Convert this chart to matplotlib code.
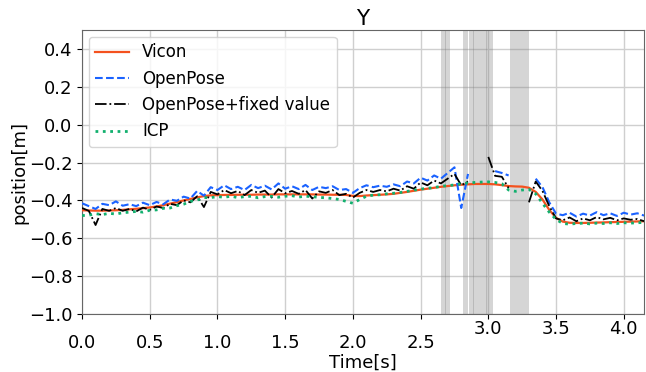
import numpy as np
import matplotlib
matplotlib.use("Agg")
import matplotlib.pyplot as plt

nan = np.nan
# sampling grid (s)
time = np.round(np.arange(84) * 0.05, 2)

vicon = [-0.452, -0.453, -0.454, -0.454, -0.453, -0.452, -0.450, -0.447, -0.444, -0.441,
         -0.437, -0.432, -0.425, -0.417, -0.409, -0.400, -0.392, -0.384, -0.377, -0.373,
         -0.372, -0.371, -0.371, -0.370, -0.370, -0.370, -0.369, -0.369, -0.369, -0.368,
         -0.368, -0.368, -0.368, -0.368, -0.368, -0.369, -0.369, -0.370, -0.370, -0.371,
         -0.376, -0.377, -0.374, -0.372, -0.370, -0.368, -0.365, -0.360, -0.355, -0.349,
         -0.343, -0.338, -0.333, -0.328, -0.324, -0.320, -0.317, -0.315, -0.313, -0.313,
         -0.313, -0.315, -0.319, -0.324, -0.326, -0.327, -0.333, -0.355, -0.395, -0.450,
         -0.492, -0.512, -0.518, -0.519, -0.519, -0.518, -0.517, -0.516, -0.515, -0.514,
         -0.513, -0.512, -0.511, -0.510]

openpose = [-0.415, -0.430, -0.445, -0.418, -0.425, -0.405, -0.428, -0.420, -0.430, -0.412,
            -0.425, -0.408, -0.420, -0.395, -0.402, -0.380, -0.390, -0.350, -0.375, -0.330,
            -0.345, -0.320, -0.340, -0.328, -0.345, -0.318, -0.335, -0.322, -0.342, -0.310,
            -0.338, -0.325, -0.340, -0.318, -0.345, -0.328, -0.335, -0.325, -0.345, -0.340,
            -0.360, -0.335, -0.320, -0.330, -0.322, -0.328, -0.315, -0.325, -0.300, -0.310,
            -0.280, -0.295, -0.268, -0.285, -0.255, -0.225, -0.440, -0.260, nan, nan,
            nan, -0.245, -0.255, -0.268, nan, nan, nan, -0.285, -0.330, -0.410,
            -0.470, -0.478, -0.465, -0.485, -0.470, -0.480, -0.462, -0.478, -0.468, -0.482,
            -0.465, -0.475, -0.468, -0.480]

openpose_fixed = [-0.440, -0.455, -0.530, -0.445, -0.455, -0.440, -0.455, -0.445, -0.458, -0.438,
                  -0.450, -0.432, -0.440, -0.418, -0.425, -0.400, -0.410, -0.378, -0.435, -0.355,
                  -0.368, -0.345, -0.362, -0.350, -0.372, -0.345, -0.360, -0.348, -0.385, -0.340,
                  -0.362, -0.350, -0.365, -0.345, -0.390, -0.352, -0.360, -0.345, -0.372, -0.365,
                  -0.385, -0.360, -0.345, -0.355, -0.345, -0.352, -0.338, -0.348, -0.325, -0.338,
                  -0.305, -0.320, -0.295, -0.310, -0.285, -0.260, -0.320, -0.300, nan, nan,
                  -0.170, -0.270, -0.275, -0.335, nan, nan, -0.410, -0.300, -0.350, -0.430,
                  -0.495, -0.505, -0.490, -0.510, -0.495, -0.505, -0.488, -0.500, -0.492, -0.505,
                  -0.495, -0.502, -0.498, -0.510]

icp = [-0.480, -0.478, -0.470, -0.475, -0.468, -0.472, -0.465, -0.462, -0.458, -0.462,
       -0.452, -0.450, -0.442, -0.440, -0.428, -0.420, -0.405, -0.398, -0.385, -0.385,
       -0.380, -0.383, -0.378, -0.385, -0.380, -0.378, -0.386, -0.380, -0.378, -0.383,
       -0.378, -0.375, -0.382, -0.378, -0.380, -0.384, -0.386, -0.390, -0.395, -0.405,
       -0.415, -0.395, -0.378, -0.372, -0.370, -0.365, -0.362, -0.358, -0.352, -0.346,
       -0.340, -0.336, -0.332, -0.325, -0.322, -0.318, -0.312, -0.308, -0.305, -0.303,
       -0.302, -0.305, -0.312, -0.345, -0.352, -0.345, -0.342, -0.365, -0.415, -0.462,
       -0.500, -0.522, -0.525, -0.522, -0.520, -0.524, -0.520, -0.522, -0.518, -0.522,
       -0.518, -0.520, -0.518, -0.516]

# shaded intervals (s): frames where OpenPose failed
span_start = [2.650, 2.680, 2.815, 2.860, 2.890, 2.930, 2.984, 3.163]
span_end = [2.684, 2.720, 2.853, 2.894, 2.934, 2.988, 3.034, 3.303]

xticks = [0.0, 0.5, 1.0, 1.5, 2.0, 2.5, 3.0, 3.5, 4.0]
yticks = [-1.0, -0.8, -0.6, -0.4, -0.2, 0.0, 0.2, 0.4]

plt.rcParams['font.family'] = ['DejaVu Sans']
plt.rcParams['font.size'] = 13

fig = plt.figure(figsize=(6.46, 3.72), dpi=100)
ax = fig.add_axes([0.127, 0.156, 0.870, 0.763])

for s, e in zip(span_start, span_end):
    ax.axvspan(s, e, color='gray', alpha=0.33, lw=0, zorder=1)

ax.plot(time, vicon, color='#f4511e', lw=1.6, ls='-', label='Vicon', zorder=3)
ax.plot(time, openpose, color='#1a62ff', lw=1.5, ls='--', label='OpenPose', zorder=4)
ax.plot(time, openpose_fixed, color='black', lw=1.3, ls='-.', label='OpenPose+fixed value', zorder=5)
ax.plot(time, icp, color='#12b06e', lw=2.0, ls=':', label='ICP', zorder=6)

ax.set_xlim(0, 4.15)
ax.set_ylim(-1.0, 0.5)
ax.set_xticks(xticks)
ax.set_yticks(yticks)
ax.grid(True, color='#cfcfcf', lw=1.0, zorder=0)
ax.set_axisbelow(True)
for sp in ax.spines.values():
    sp.set_color('#666666')

ax.tick_params(axis='x', pad=11)
for tk, v in zip(ax.xaxis.get_major_ticks(), xticks):
    if v >= 3.0:
        tk.set_pad(1)

ax.set_title('Y', pad=4)
ax.set_xlabel('Time[s]', labelpad=1)
ax.set_ylabel('position[m]', labelpad=0)
ax.legend(loc='upper left', fontsize=12, framealpha=0.8, borderaxespad=0.4)

fig.savefig('out.png', dpi=100)
